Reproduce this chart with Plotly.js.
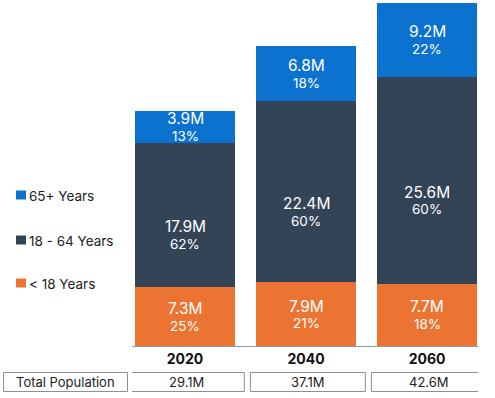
<!DOCTYPE html>
<html>
<head>
<meta charset="utf-8">
<script src="https://cdn.plot.ly/plotly-3.0.1.min.js"></script>
<style>html,body{margin:0;padding:0;background:#fff;}#chart{width:495px;height:398px;}</style>
</head>
<body>
<div id="chart"></div>
<script>
// ---- data ----
var years = ["2020", "2040", "2060"];
var seriesNames = ["< 18 Years", "18 - 64 Years", "65+ Years"];
var under18 = [7.3, 7.9, 7.7];
var age18to64 = [17.9, 22.4, 25.6];
var age65plus = [3.9, 6.8, 9.2];
var pctUnder18 = [25, 21, 18];
var pct18to64 = [62, 60, 60];
var pct65plus = [13, 18, 22];
var totals = [29.1, 37.1, 42.6];
var rowLabel = "Total Population";

// ---- style ----
var colors = ["#EC7433", "#344457", "#0B72CF"];
var W = 495, H = 398;
var M = {l: 132, r: 17, t: 2, b: 52};
var plotW = W - M.l - M.r, plotH = H - M.t - M.b;
function px2x(px) { return (px - M.l) / plotW; }
function py2y(py) { return (H - M.b - py) / plotH; }
var FONT = "Inter, 'Liberation Sans', Arial, sans-serif";

var values = [under18, age18to64, age65plus];
var pcts = [pctUnder18, pct18to64, pct65plus];

var traces = values.map(function (v, s) {
  return {
    type: "bar", x: years, y: v, name: seriesNames[s],
    marker: {color: colors[s], line: {width: 0}},
    hoverinfo: "none", showlegend: false
  };
});

var annotations = [];
var shapes = [];
var midShift = [0, -20, 0];
years.forEach(function (yr, i) {
  var base = 0;
  values.forEach(function (v, s) {
    var mid = base + v[i] / 2;
    annotations.push({x: i, y: mid, xref: "x", yref: "y", text: v[i].toFixed(1) + "M",
      xanchor: "center", yanchor: "middle",
      showarrow: false, yshift: 8 + midShift[s], font: {family: FONT, size: 15.5, color: "#ffffff"}});
    annotations.push({x: i, y: mid, xref: "x", yref: "y", text: pcts[s][i] + "%",
      xanchor: "center", yanchor: "middle",
      showarrow: false, yshift: -9 + midShift[s], font: {family: FONT, size: 13.5, color: "#ffffff"}});
    base += v[i];
  });
  // table cell
  shapes.push({type: "rect", xref: "x", yref: "paper", x0: i - 0.46, x1: i + 0.49,
    y0: py2y(391.5), y1: py2y(372.5), line: {color: "#8f8f8f", width: 1}, fillcolor: "rgba(0,0,0,0)"});
  annotations.push({x: i + 0.015, y: py2y(382), xref: "x", yref: "paper", text: totals[i].toFixed(1) + "M",
    xanchor: "center", yanchor: "middle",
    showarrow: false, font: {family: FONT, size: 13, color: "#222"}});
});

// table row label
shapes.push({type: "rect", xref: "paper", yref: "paper", x0: px2x(3.5), x1: px2x(127.5),
  y0: py2y(391.5), y1: py2y(372.5), line: {color: "#8f8f8f", width: 1}, fillcolor: "rgba(0,0,0,0)"});
annotations.push({x: px2x(65.5), y: py2y(382), xref: "paper", yref: "paper", text: rowLabel,
  xanchor: "center", yanchor: "middle",
  showarrow: false, font: {family: FONT, size: 13, color: "#222"}});

// legend (top to bottom: 65+, 18-64, <18)
var legendY = [283, 240, 195];
seriesNames.forEach(function (n, s) {
  var cy = legendY[s];
  shapes.push({type: "rect", xref: "paper", yref: "paper", x0: px2x(16), x1: px2x(26),
    y0: py2y(cy + 4.5), y1: py2y(cy - 4.5), line: {width: 0}, fillcolor: colors[s]});
  annotations.push({x: px2x(27), y: py2y(cy + 0.5), xref: "paper", yref: "paper", text: n,
    xanchor: "left", yanchor: "middle", showarrow: false, font: {family: FONT, size: 13.5, color: "#222"}});
});

var layout = {
  width: W, height: H,
  margin: M,
  paper_bgcolor: "#ffffff", plot_bgcolor: "#ffffff",
  barmode: "stack", bargap: 0.174,
  showlegend: false,
  xaxis: {type: "category", range: [-0.438, 2.421], showline: true, linecolor: "#9a9a9a", linewidth: 1,
    showgrid: false, zeroline: false, ticks: "", fixedrange: true,
    tickfont: {family: FONT, size: 14, color: "#111", weight: "bold"}},
  yaxis: {range: [0, 42.6], visible: false, fixedrange: true},
  annotations: annotations,
  shapes: shapes
};

Plotly.newPlot("chart", traces, layout, {displayModeBar: false, staticPlot: true});
</script>
</body>
</html>
